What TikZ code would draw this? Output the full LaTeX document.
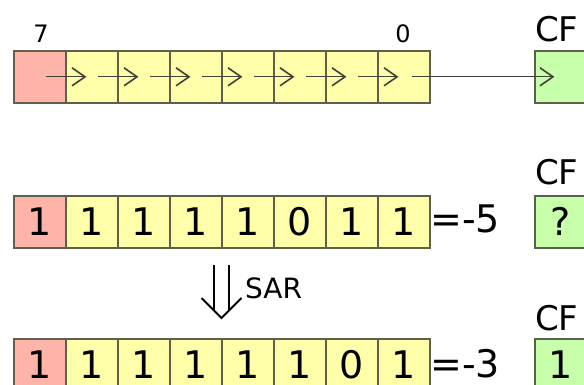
\documentclass[tikz,border=0pt]{standalone}
\usepackage{fontspec}
\setmainfont{DejaVu Sans}
\definecolor{redc}{RGB}{255,180,170}
\definecolor{yelc}{RGB}{255,255,170}
\definecolor{grnc}{RGB}{200,255,170}
\definecolor{bord}{RGB}{95,95,80}
\definecolor{arrc}{RGB}{65,65,55}
\begin{document}
\begin{tikzpicture}[x=1pt,y=-1pt,
  cell/.style={draw=bord, line width=1.6pt, minimum width=52pt, minimum height=52pt,
    inner sep=0pt, anchor=north west, font=\fontsize{38}{40}\selectfont},
  redcell/.style={cell, fill=redc},
  yelcell/.style={cell, fill=yelc},
  cfcell/.style={cell, fill=grnc},
  digit/.style={inner sep=0pt, font=\fontsize{38}{40}\selectfont},
  shiftline/.style={draw=arrc, line width=1.4pt},
  chevron/.style={draw=arrc, line width=1.6pt, line join=miter},
  cflabel/.style={anchor=base west, inner sep=0pt, font=\fontsize{34}{36}\selectfont},
  valtext/.style={anchor=base west, inner sep=0pt, font=\fontsize{38}{40}\selectfont},
  idxlabel/.style={anchor=base, inner sep=0pt, font=\fontsize{24}{26}\selectfont},
  dblarrow/.style={line width=1.8pt, line cap=butt, line join=miter}]
\useasboundingbox (0,0) rectangle (584,385);
\clip (0,0) rectangle (584,385);

% top row
\node[redcell] (t0) at (13,50) {};
\foreach \i in {1,...,7} {\node[yelcell] (t\i) at ({13+52*\i},50) {};}
\node[cfcell] (cf1) at (534,50) {};
\node[cflabel] (cfl1) at (535,42) {CF};
\node[idxlabel] (l7) at (41,43) {7};
\node[idxlabel] (l0) at (403,43) {0};
\foreach \i in {1,...,7} {
  \draw[shiftline] ([xshift=-19pt]t\i.west) -- ([xshift=20pt]t\i.west);
  \draw[chevron] ([xshift=7pt,yshift=9pt]t\i.west) -- ([xshift=20pt]t\i.west) -- ([xshift=7pt,yshift=-9pt]t\i.west);
}
\draw[shiftline] ([xshift=-19pt]t7.east) -- ([xshift=19pt]cf1.west);
\draw[chevron] ([xshift=6pt,yshift=9pt]cf1.west) -- ([xshift=19pt]cf1.west) -- ([xshift=6pt,yshift=-9pt]cf1.west);

% middle row
\node[redcell] (m0) at (13,195) {1};
\foreach \b [count=\i] in {1,1,1,1,0,1,1} {\node[yelcell] (m\i) at ({13+52*\i},195) {\b};}
\node[valtext] (mv) at (430,233) {=-5};
\node[cfcell] (cf2) at (534,195) {?};
\node[cflabel] (cfl2) at (535,185) {CF};

% SAR arrow
\coordinate (sartop) at (221.5,265);
\coordinate (sartip) at (221.5,318);
\draw[dblarrow] ([xshift=-7.5pt]sartop) -- ([xshift=-7.5pt,yshift=8pt]sartip)
                ([xshift=7.5pt]sartop) -- ([xshift=7.5pt,yshift=7.5pt]sartip);
\draw[dblarrow] ([xshift=-20pt,yshift=20pt]sartip) -- (sartip) -- ([xshift=20pt,yshift=20pt]sartip);
\node[anchor=base west, inner sep=0pt, font=\fontsize{28}{30}\selectfont] (sar) at (245,298) {SAR};

% bottom row (cells run past the lower edge, as in the reference)
\node[redcell] (b0) at (13,338) {};
\node[digit] (bd0) at (b0.center) {1};
\foreach \b [count=\i] in {1,1,1,1,1,0,1} {
  \node[yelcell] (b\i) at ({13+52*\i},338) {};
  \node[digit] (bd\i) at (b\i.center) {\b};
}
\node[valtext] (bv) at (430,377) {=-3};
\node[cfcell] (cf3) at (534,338) {};
\node[digit] (cfd3) at (cf3.center) {1};
\node[cflabel] (cfl3) at (535,330) {CF};
\end{tikzpicture}
\end{document}
